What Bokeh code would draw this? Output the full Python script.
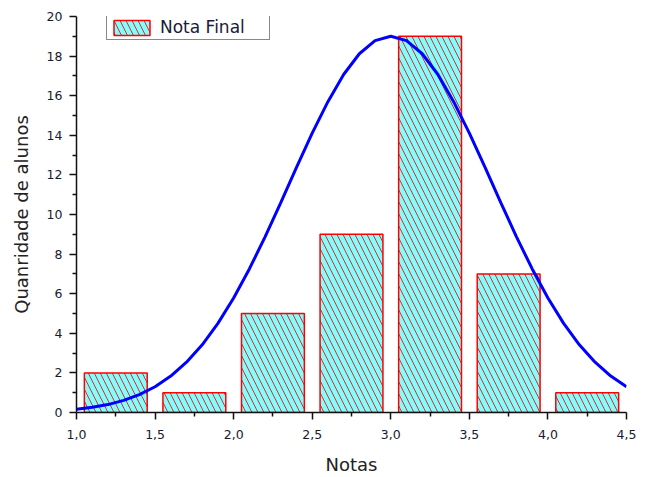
from bokeh.plotting import figure
from bokeh.models import FixedTicker, Legend, LegendItem, ColumnDataSource
from bokeh.embed import file_html
from bokeh.resources import INLINE

# ---- data ----
bin_centers = [1.25, 1.75, 2.25, 2.75, 3.25, 3.75, 4.25]
counts = [2, 1, 5, 9, 19, 7, 1]

curve_x = [1.0, 1.1, 1.2, 1.3, 1.4, 1.5, 1.6, 1.7, 1.8, 1.9, 2.0, 2.1, 2.2, 2.3, 2.4,
           2.5, 2.6, 2.7, 2.8, 2.9, 3.0, 3.1, 3.2, 3.3, 3.4, 3.5, 3.6, 3.7, 3.8, 3.9,
           4.0, 4.1, 4.2, 4.3, 4.4, 4.5]
curve_y = [0.16, 0.26, 0.40, 0.61, 0.90, 1.30, 1.84, 2.54, 3.42, 4.50, 5.78, 7.25, 8.87,
           10.60, 12.38, 14.11, 15.70, 17.07, 18.12, 18.78, 19.00, 18.78, 18.12, 17.07,
           15.70, 14.11, 12.38, 10.60, 8.87, 7.25, 5.78, 4.50, 3.42, 2.54, 1.84, 1.30]

x_ticks = [1.0, 1.5, 2.0, 2.5, 3.0, 3.5, 4.0, 4.5]
x_tick_labels = ["1,0", "1,5", "2,0", "2,5", "3,0", "3,5", "4,0", "4,5"]
x_minor_ticks = [1.25, 1.75, 2.25, 2.75, 3.25, 3.75, 4.25]
y_ticks = [0, 2, 4, 6, 8, 10, 12, 14, 16, 18, 20]
y_minor_ticks = [1, 3, 5, 7, 9, 11, 13, 15, 17, 19]

legend_label = "Nota Final"
x_title = "Notas"
y_title = "Quanridade de alunos"

FONT = "DejaVu Sans"

p = figure(width=640, height=477, x_range=(1.0, 4.5), y_range=(0, 20),
           output_backend="svg", toolbar_location=None,
           min_border_left=76, min_border_right=14, min_border_top=16, min_border_bottom=65)
p.outline_line_color = None
p.xgrid.visible = False
p.ygrid.visible = False
p.background_fill_color = "white"
p.border_fill_color = "white"

bars_src = ColumnDataSource(dict(x=bin_centers, top=counts))
bars = p.vbar(x="x", top="top", bottom=0, width=0.4, source=bars_src,
              fill_color="#80FFFF", line_color="#FF0000", line_width=1.5,
              hatch_pattern="left_diagonal_line", hatch_color="#FF0000",
              hatch_scale=12, hatch_weight=1, hatch_alpha=0.85)

curve_src = ColumnDataSource(dict(x=curve_x, y=curve_y))
p.line(x="x", y="y", source=curve_src, line_color="#0000FF", line_width=3)

# axes
for ax in (p.xaxis[0], p.yaxis[0]):
    ax.axis_line_color = "#111111"
    ax.axis_line_width = 1.5
    ax.major_tick_line_color = "#111111"
    ax.minor_tick_line_color = "#111111"
    ax.major_tick_line_width = 1.5
    ax.minor_tick_line_width = 1.5
    ax.major_tick_in = 0
    ax.major_tick_out = 7
    ax.minor_tick_in = 0
    ax.minor_tick_out = 4
    ax.major_label_text_font = FONT
    ax.major_label_text_font_size = "12.5px"
    ax.major_label_text_color = "#1a1a2e"
    ax.axis_label_text_font = FONT
    ax.axis_label_text_font_size = "18px"
    ax.axis_label_text_font_style = "normal"
    ax.axis_label_text_color = "#222222"

p.xaxis[0].ticker = FixedTicker(ticks=x_ticks, minor_ticks=x_minor_ticks)
p.xaxis[0].major_label_overrides = dict(zip(x_ticks, x_tick_labels))
p.xaxis[0].axis_label = x_title
p.xaxis[0].major_label_standoff = 10
p.xaxis[0].axis_label_standoff = 12

p.yaxis[0].ticker = FixedTicker(ticks=y_ticks, minor_ticks=y_minor_ticks)
p.yaxis[0].axis_label = y_title
p.yaxis[0].major_label_standoff = 7
p.yaxis[0].axis_label_standoff = 12

legend = Legend(items=[LegendItem(label=legend_label, renderers=[bars])],
                location=(30, 372))
legend.margin = 0
legend.padding = 2
legend.glyph_width = 45
legend.glyph_height = 19
legend.label_height = 19
legend.label_standoff = 6
legend.label_width = 107
legend.label_text_font = FONT
legend.label_text_font_size = "17px"
legend.label_text_color = "#1a1a3a"
legend.border_line_color = "#111111"
legend.border_line_width = 1.5
legend.background_fill_color = "white"
legend.background_fill_alpha = 1.0
p.add_layout(legend, "center")

open("out.html", "w").write(file_html(p, INLINE))
